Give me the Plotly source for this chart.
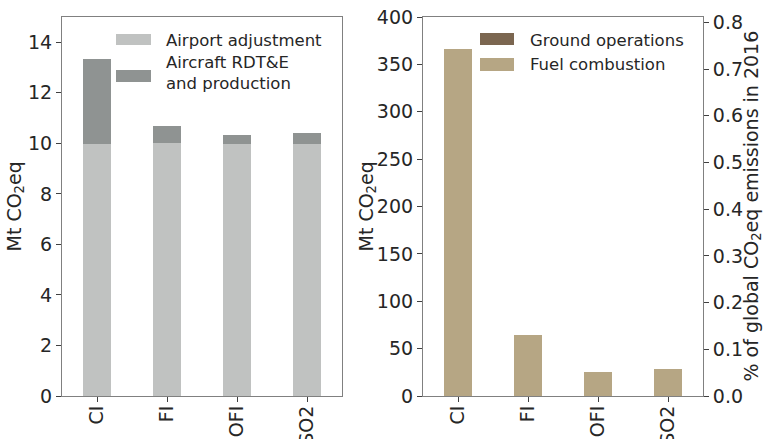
import plotly.graph_objects as go

# ---- data ----
categories = ["CI", "FI", "OFI", "SO2"]
airport_adjustment = [9.97, 10.02, 9.97, 9.97]
aircraft_rdte = [3.35, 0.65, 0.35, 0.43]
ground_operations = [0.0, 0.0, 0.0, 0.0]
fuel_combustion = [366, 64, 25, 29]
global_emissions_mt = 49300  # Mt CO2eq, 2016

left_ticks = [0, 2, 4, 6, 8, 10, 12, 14]
right_ticks = [0, 50, 100, 150, 200, 250, 300, 350, 400]
pct_ticks = [0.0, 0.1, 0.2, 0.3, 0.4, 0.5, 0.6, 0.7, 0.8]

c_airport = "#c0c2c1"
c_rdte = "#8f9392"
c_ground = "#7b6650"
c_fuel = "#b6a684"
txt = "#262626"
FONT = "DejaVu Sans"
FS_LEG = 16.5
FS_TICK = 19
FS_TITLE = 19

W, H = 763, 439
def px(x):
    return x / W
def py(y):
    return 1 - y / H

fig = go.Figure()
bar_style = dict(width=0.4, marker_line_width=0)
fig.add_bar(x=categories, y=airport_adjustment, marker_color=c_airport,
            xaxis="x", yaxis="y", showlegend=False, **bar_style)
fig.add_bar(x=categories, y=aircraft_rdte, marker_color=c_rdte,
            xaxis="x", yaxis="y", showlegend=False, **bar_style)
fig.add_bar(x=categories, y=ground_operations, marker_color=c_ground,
            xaxis="x2", yaxis="y2", showlegend=False, **bar_style)
fig.add_bar(x=categories, y=fuel_combustion, marker_color=c_fuel,
            xaxis="x2", yaxis="y2", showlegend=False, **bar_style)

ymax_right = 400
axis_common = dict(showline=True, linecolor="#808080", linewidth=1.2, mirror=True,
                   ticks="outside", ticklen=5, tickcolor="#404040", tickwidth=1,
                   showgrid=False, zeroline=False, automargin=False,
                   tickfont=dict(family=FONT, size=FS_TICK, color=txt))

fig.update_layout(
    width=W, height=H,
    margin=dict(l=0, r=0, t=0, b=0),
    paper_bgcolor="white", plot_bgcolor="white",
    barmode="stack",
    font=dict(family=FONT, size=FS_LEG, color=txt),
    xaxis=dict(domain=[px(62), px(342)], anchor="y", range=[-0.5, 3.5],
               tickangle=-90, ticklabelstandoff=-4, **axis_common),
    yaxis=dict(domain=[py(396), py(17)], anchor="x", range=[0, 15],
               tickvals=left_ticks, **axis_common),
    xaxis2=dict(domain=[px(423), px(703)], anchor="y2", range=[-0.5, 3.5],
                tickangle=-90, ticklabelstandoff=-4, **axis_common),
    yaxis2=dict(domain=[py(396), py(17)], anchor="x2", range=[0, ymax_right],
                tickvals=right_ticks, **axis_common),
    yaxis3=dict(overlaying="y2", anchor="x2", side="right",
                range=[0, ymax_right / global_emissions_mt * 100],
                tickvals=pct_ticks, ticktext=[f"{v:.1f}" for v in pct_ticks],
                showline=False, ticks="outside", ticklen=5, tickcolor="#404040",
                showgrid=False, zeroline=False, automargin=False,
                tickfont=dict(family=FONT, size=FS_TICK, color=txt)),
)
# invisible trace to activate the secondary axis
fig.add_scatter(x=categories, y=[v / global_emissions_mt * 100 for v in fuel_combustion],
                xaxis="x2", yaxis="y3", mode="markers", marker=dict(opacity=0),
                showlegend=False, hoverinfo="skip")

# ---- axis titles ----
ymid = py((17 + 396) / 2)
for tx, label in [(15, "Mt CO<sub>2</sub>eq"), (367, "Mt CO<sub>2</sub>eq"),
                  (752, "% of global CO<sub>2</sub>eq emissions in 2016")]:
    fig.add_annotation(xref="paper", yref="paper", x=px(tx), y=ymid,
                       xanchor="center", yanchor="middle", textangle=-90,
                       text=label, showarrow=False,
                       font=dict(family=FONT, size=FS_TITLE, color=txt))

# ---- custom legends (matplotlib-style wide swatches) ----
legend_items = [
    (116, 151, 34, 45, c_airport, 164, 40, "Airport adjustment"),
    (116, 151, 70, 82, c_rdte, 164, 73, "Aircraft RDT&E<br>and production"),
    (480, 514, 33, 45, c_ground, 528, 40, "Ground operations"),
    (480, 514, 58, 71, c_fuel, 528, 65, "Fuel combustion"),
]
for x0, x1, y0, y1, col, tx, ty, label in legend_items:
    fig.add_shape(type="rect", xref="paper", yref="paper",
                  x0=px(x0), x1=px(x1), y0=py(y1), y1=py(y0),
                  fillcolor=col, line=dict(width=0))
    fig.add_annotation(xref="paper", yref="paper", x=px(tx), y=py(ty),
                       xanchor="left", yanchor="middle", align="left",
                       text=label, showarrow=False,
                       font=dict(family=FONT, size=FS_LEG, color=txt))

fig.write_html("out.html",
               config={"displayModeBar": False},
               post_script="document.body.style.margin='0';document.body.style.padding='0';"
                           "document.documentElement.style.overflow='hidden';")
